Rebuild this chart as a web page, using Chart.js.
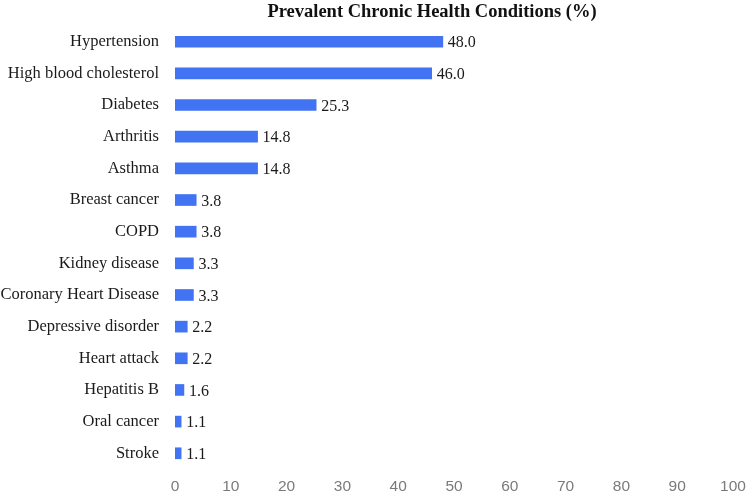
<!DOCTYPE html>
<html>
<head>
<meta charset="utf-8">
<script src="https://cdn.jsdelivr.net/npm/chart.js@4"></script>
<style>
html,body{margin:0;padding:0;background:#fff;}
#wrap{width:750px;height:495px;position:relative;}
</style>
</head>
<body>
<div id="wrap"><canvas id="c" width="750" height="495"></canvas></div>
<script>
const categories = ["Hypertension","High blood cholesterol","Diabetes","Arthritis","Asthma","Breast cancer","COPD","Kidney disease","Coronary Heart Disease","Depressive disorder","Heart attack","Hepatitis B","Oral cancer","Stroke"];
const prevalence = [48.0,46.0,25.3,14.8,14.8,3.8,3.8,3.3,3.3,2.2,2.2,1.6,1.1,1.1];
const xTickMin = 0;
const xTickMax = 100;
const xTickStep = 10;
const titleText = "Prevalent Chronic Health Conditions (%)";

const serif = '"Liberation Serif","Times New Roman",serif';

const valueLabels = {
  id: 'valueLabels',
  afterDatasetsDraw(chart) {
    const ctx = chart.ctx;
    const meta = chart.getDatasetMeta(0);
    ctx.save();
    ctx.font = '16px ' + serif;
    ctx.fillStyle = '#1a1a1a';
    ctx.textAlign = 'left';
    ctx.textBaseline = 'middle';
    meta.data.forEach((bar, i) => {
      ctx.fillText(prevalence[i].toFixed(1), bar.x + 5, bar.y + 1.5);
    });
    ctx.restore();
  }
};

const titlePlugin = {
  id: 'titlePlugin',
  afterDraw(chart) {
    const ctx = chart.ctx;
    ctx.save();
    ctx.font = 'bold 18.5px ' + serif;
    ctx.fillStyle = '#111';
    ctx.textAlign = 'center';
    ctx.textBaseline = 'middle';
    ctx.fillText(titleText, 432, 12);
    ctx.restore();
  }
};

new Chart(document.getElementById('c'), {
  type: 'bar',
  data: {
    labels: categories,
    datasets: [{
      data: prevalence,
      backgroundColor: '#4273f2',
      borderWidth: 0,
      barThickness: 11
    }]
  },
  options: {
    indexAxis: 'y',
    responsive: false,
    animation: false,
    layout: { padding: { left: 0, right: 17, top: 23, bottom: 0 } },
    plugins: { legend: { display: false }, tooltip: { enabled: false }, title: { display: false } },
    scales: {
      x: {
        min: xTickMin, max: xTickMax,
        ticks: { stepSize: xTickStep, padding: 8, color: '#7a7a7a', font: { family: '"Liberation Sans", Arial, sans-serif', size: 15.5 }, maxRotation: 0 },
        grid: { display: false, drawTicks: false },
        border: { display: false },
        afterFit(scale) { scale.height = 24; scale.paddingRight = 0; scale.paddingLeft = 0; }
      },
      y: {
        ticks: { padding: 16, color: '#1a1a1a', font: { family: serif, size: 16.5 }, autoSkip: false },
        grid: { display: false, drawTicks: false },
        border: { display: false },
        afterFit(scale) { scale.width = 175; }
      }
    }
  },
  plugins: [valueLabels, titlePlugin]
});
</script>
</body>
</html>
